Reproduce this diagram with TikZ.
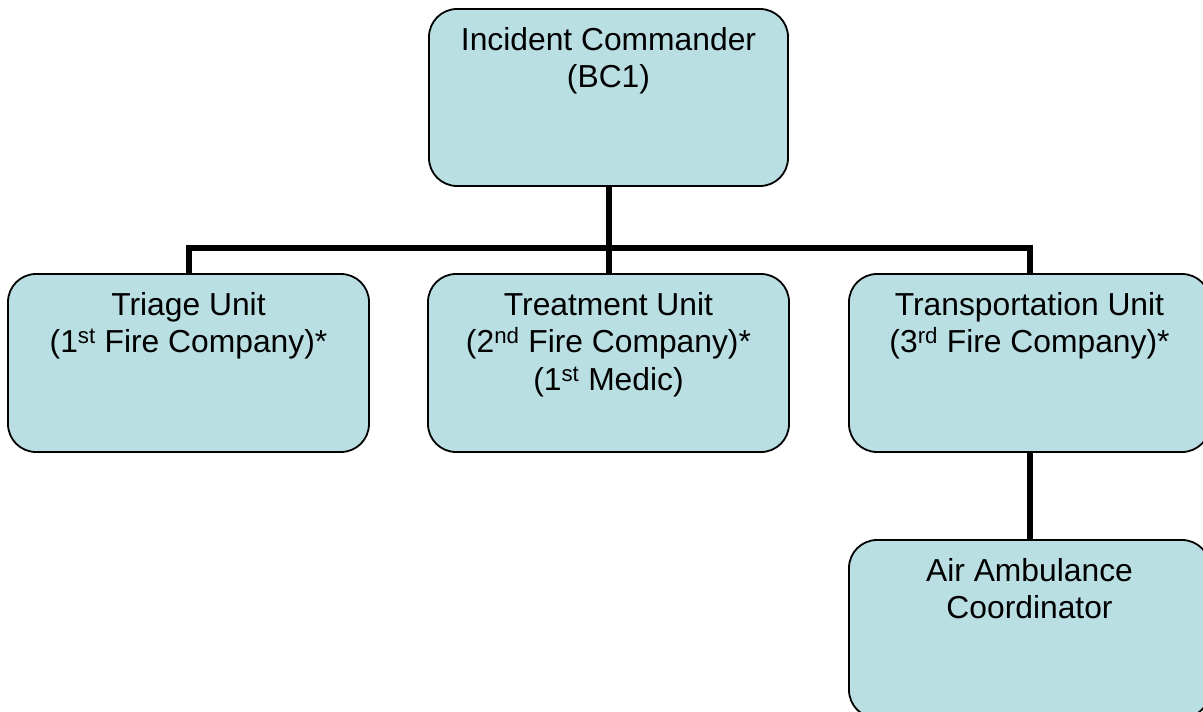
\documentclass[tikz,border=0pt]{standalone}
\usepackage{fontspec}
\setmainfont{Liberation Sans}
\usetikzlibrary{positioning}

\definecolor{unitfill}{RGB}{186,223,227}

\tikzset{
  unit_box/.style={draw=black,line width=1.8pt,fill=unitfill,rounded corners=28pt,
    minimum width=361pt,minimum height=178pt,inner sep=0pt},
  unit_txt/.style={inner sep=0pt,align=center,font=\fontsize{31.8}{37.5}\selectfont},
  link_line/.style={line width=6pt},
}

\begin{document}
\begin{tikzpicture}[
  x=1pt, y=-1pt,
  every node/.style={color=black},
  ]

  \useasboundingbox (0,0) rectangle (1203,712);

  % boxes
  \node[unit_box,minimum width=359pt,minimum height=177pt] (cmd) at (608.5,97.5) {};
  \node[unit_box] (triage) at (188.5,363) {};
  \node[unit_box] (treat) at (608.5,363) {};
  \node[unit_box] (transp) at (1029.5,363) {};
  \node[unit_box] (air) at (1029.5,629) {};

  % texts
  \node[unit_txt,below=19pt of cmd.north] (cmd_t) {Incident Commander\\(BC1)};
  \node[unit_txt,below=19pt of triage.north] (triage_t)
    {Triage Unit\\(1\textsuperscript{st} Fire Company)*};
  \node[unit_txt,below=19pt of treat.north] (treat_t)
    {Treatment Unit\\(2\textsuperscript{nd} Fire Company)*\\(1\textsuperscript{st} Medic)};
  \node[unit_txt,below=19pt of transp.north] (transp_t)
    {Transportation Unit\\(3\textsuperscript{rd} Fire Company)*};
  \node[unit_txt,below=19pt of air.north] (air_t) {Air Ambulance\\Coordinator};

  % connectors
  \coordinate (bar) at (608.5,248);
  \draw[link_line] (cmd.south) -- (treat.north);
  \draw[link_line] (triage.north) |- (bar) -| (transp.north);
  \draw[link_line] (transp.south) -- (air.north);

\end{tikzpicture}
\end{document}
